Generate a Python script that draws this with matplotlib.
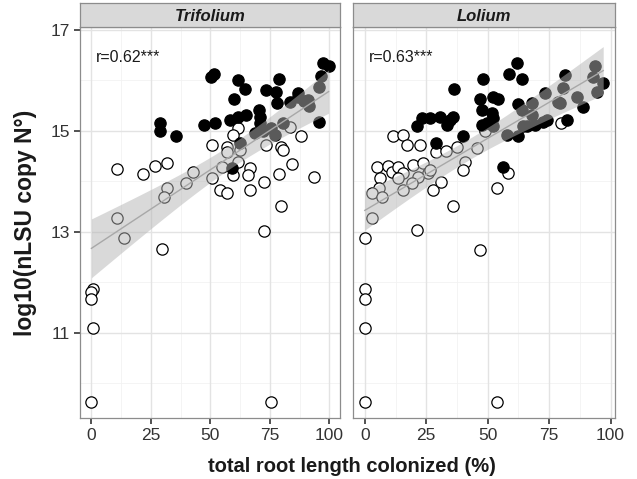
import numpy as np
import matplotlib
matplotlib.use("Agg")
import matplotlib.pyplot as plt

plt.rcParams['font.family'] = ['Liberation Sans', 'DejaVu Sans']

# Trifolium panel
trif_fill_x = [50.2, 51.6, 61.6, 64.4, 60.0, 78.7, 73.5, 77.7, 86.7, 78.0, 97.2, 99.7, 96.5,
               28.9, 28.9, 35.6, 47.3, 52.0, 58.2, 61.6, 64.9, 70.4, 70.7, 70.7, 95.5, 83.3,
               86.7, 90.9, 91.6, 68.6, 72.1, 75.6, 80.5, 62.3, 58.9, 77.0, 95.8, 89.5]
trif_fill_y = [16.07, 16.13, 16.01, 15.83, 15.63, 16.03, 15.81, 15.78, 15.75, 15.56, 16.34, 16.28, 16.08,
               15.15, 15.00, 14.89, 15.12, 15.15, 15.22, 15.27, 15.32, 15.42, 15.28, 15.15, 15.18, 15.58,
               15.68, 15.62, 15.50, 14.95, 14.99, 15.05, 15.15, 14.77, 14.27, 14.92, 15.88, 15.60]
trif_open_x = [61.6, 59.5, 50.5, 56.8, 56.8, 62.3, 73.5, 79.8, 83.5, 88.2, 84.4, 78.7, 93.4, 72.5,
               66.5, 65.8, 66.5, 61.6, 59.5, 55.1, 50.5, 54.0, 56.8, 79.5, 72.5, 42.8, 39.7, 31.7,
               26.8, 21.6, 10.7, 31.7, 30.7, 10.7, 13.5, 29.6, 0.7, 0.0, 0.0, 0.7, 0.0, 75.3, 80.5]
trif_open_y = [15.05, 14.92, 14.72, 14.69, 14.59, 14.62, 14.72, 14.69, 15.07, 14.89, 14.34, 14.14, 14.08, 13.99,
               14.26, 14.13, 13.83, 14.39, 14.13, 14.29, 14.06, 13.83, 13.76, 13.52, 13.02, 14.18, 13.96, 14.37,
               14.31, 14.14, 14.24, 13.86, 13.70, 13.27, 12.87, 12.65, 11.86, 11.80, 11.66, 11.10, 9.63, 9.63, 14.62]

# Lolium panel
lol_fill_x = [61.8, 58.8, 63.8, 48.0, 36.3, 46.9, 52.3, 54.3, 62.4, 47.6, 51.6, 52.3, 47.6, 23.2,
              26.5, 30.6, 21.1, 33.3, 34.7, 36.0, 40.1, 29.0, 56.1, 62.4, 65.9, 69.2, 72.6, 82.1,
              88.9, 97.0, 93.6, 92.7, 94.3, 86.2, 80.7, 81.4, 73.3, 78.7, 67.9, 63.8, 64.5, 57.7,
              52.3, 74.0, 49.6, 67.9, 79.4]
lol_fill_y = [16.34, 16.13, 16.03, 16.03, 15.83, 15.63, 15.67, 15.63, 15.54, 15.42, 15.35, 15.25, 15.12, 15.25,
              15.25, 15.28, 15.09, 15.12, 15.22, 15.28, 14.89, 14.76, 14.29, 14.89, 15.09, 15.12, 15.18, 15.22,
              15.48, 15.95, 16.29, 16.07, 15.78, 15.68, 15.85, 16.11, 15.75, 15.58, 15.55, 15.42, 15.09, 14.92,
              15.09, 15.22, 15.15, 15.32, 15.55]
lol_open_x = [11.6, 15.6, 17.0, 22.6, 29.0, 33.0, 37.6, 45.8, 48.9, 40.8, 40.1, 58.4, 53.9, 36.0,
              21.1, 0.1, 2.8, 4.9, 6.2, 5.9, 2.8, 7.1, 9.6, 11.0, 13.7, 15.7, 13.7, 19.8, 23.8,
              25.9, 21.8, 19.1, 15.7, 27.9, 30.9, 26.5, 79.7, 46.9, 0.0, 0.0, 0.0, 0.0, 53.9]
lol_open_y = [14.89, 14.92, 14.72, 14.72, 14.59, 14.61, 14.69, 14.66, 14.99, 14.39, 14.23, 14.16, 13.87, 13.51,
              13.04, 12.87, 13.27, 14.29, 14.06, 13.86, 13.76, 13.70, 14.31, 14.19, 14.29, 14.16, 14.06, 14.33, 14.36,
              14.16, 14.09, 13.96, 13.83, 13.83, 13.99, 14.23, 15.15, 12.64, 11.86, 11.66, 11.10, 9.63, 9.63]

panels = [
    ("Trifolium", "r=0.62***", trif_fill_x, trif_fill_y, trif_open_x, trif_open_y, (-4.8, 104.5)),
    ("Lolium", "r=0.63***", lol_fill_x, lol_fill_y, lol_open_x, lol_open_y, (-4.8, 101.8)),
]

W, H = 637, 479
fig = plt.figure(figsize=(W / 100, H / 100), dpi=100)

boxes = [(80, 340), (353, 615)]
top, bottom = 27, 418

for i, (name, rtxt, fx, fy, ox, oy, xl) in enumerate(panels):
    x0, x1 = boxes[i]
    ax = fig.add_axes([x0 / W, (H - bottom) / H, (x1 - x0) / W, (bottom - top) / H])
    ax.set_xlim(*xl)
    ax.set_ylim(9.31, 17.06)

    # grid
    for g in [12.5, 37.5, 62.5, 87.5]:
        ax.axvline(g, color='#f2f2f2', lw=0.6, zorder=0)
    for g in [10, 12, 14, 16]:
        ax.axhline(g, color='#f2f2f2', lw=0.6, zorder=0)
    for g in [0, 25, 50, 75, 100]:
        ax.axvline(g, color='#e3e3e3', lw=1.0, zorder=0)
    for g in [11, 13, 15, 17]:
        ax.axhline(g, color='#e3e3e3', lw=1.0, zorder=0)

    ax.scatter(ox, oy, s=66, facecolor='white', edgecolor='black', linewidth=0.9, zorder=2)
    ax.scatter(fx, fy, s=66, facecolor='black', edgecolor='black', linewidth=0.9, zorder=3)

    # linear fit with 95% CI over all points
    xa = np.array(fx + ox)
    ya = np.array(fy + oy)
    n = len(xa)
    b1, b0 = np.polyfit(xa, ya, 1)
    resid = ya - (b0 + b1 * xa)
    s = np.sqrt(np.sum(resid ** 2) / (n - 2))
    sxx = np.sum((xa - xa.mean()) ** 2)
    xs = np.linspace(xa.min(), xa.max(), 80)
    fit = b0 + b1 * xs
    se = s * np.sqrt(1 / n + (xs - xa.mean()) ** 2 / sxx)
    ax.fill_between(xs, fit - 1.99 * se, fit + 1.99 * se, color='#b4b4b4', alpha=0.5,
                    lw=0, zorder=4)
    ax.plot(xs, fit, color='#a8a8a8', lw=1.0, zorder=5)

    ax.text(0.06, 0.91, rtxt, transform=ax.transAxes, fontsize=11.5, color='#1a1a1a')

    ax.set_xticks([0, 25, 50, 75, 100])
    ax.set_yticks([11, 13, 15, 17])
    ax.tick_params(axis='both', length=4, width=1.1, color='#222222', labelsize=12.5,
                   labelcolor='#333333', pad=3)
    if i == 1:
        ax.tick_params(axis='y', left=False, labelleft=False)
    for sp in ax.spines.values():
        sp.set_color('#8c8c8c')
        sp.set_linewidth(0.9)

    # strip
    sax = fig.add_axes([x0 / W, (H - top) / H, (x1 - x0) / W, (top - 3) / H])
    sax.set_facecolor('#d9d9d9')
    sax.set_xticks([])
    sax.set_yticks([])
    for sp in sax.spines.values():
        sp.set_color('#8c8c8c')
        sp.set_linewidth(0.9)
    sax.text(0.5, 0.45, name, transform=sax.transAxes, ha='center', va='center',
             fontsize=12, fontweight='bold', fontstyle='italic', color='#1a1a1a')

fig.text(26 / W, 1 - 223 / H, "log10(nLSU copy N\u00b0)", rotation=90, ha='center', va='center',
         fontsize=16.5, fontweight='bold', color='#1a1a1a')
fig.text(352 / W, 1 - 466 / H, "total root length colonized (%)", ha='center', va='center',
         fontsize=14.5, fontweight='bold', color='#1a1a1a')

fig.savefig("out.png", dpi=100)
